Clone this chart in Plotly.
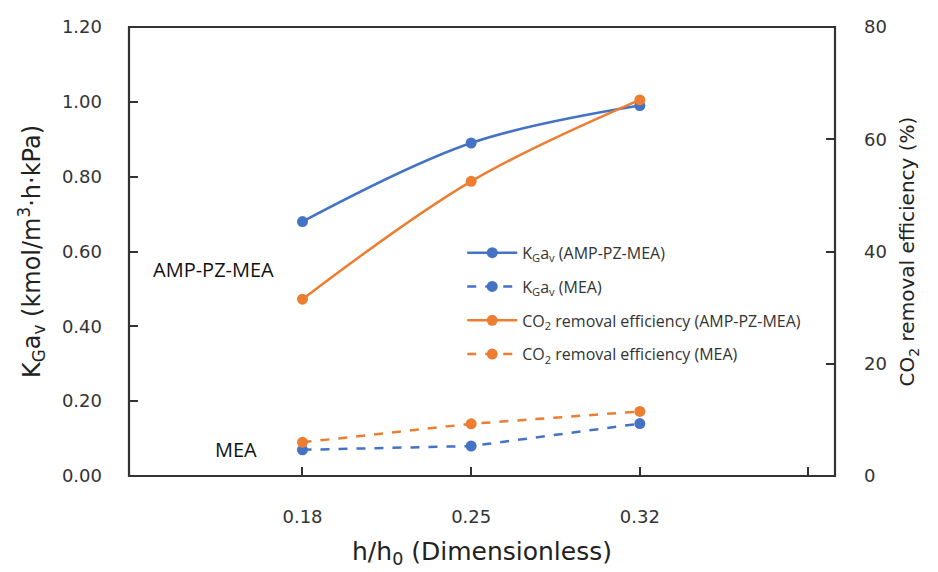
import plotly.graph_objects as go

# Packing height ratio h/h0
h_ratio = [0.18, 0.25, 0.32]

# Overall mass-transfer coefficient KGav (kmol/m3·h·kPa)
kga_amp_pz_mea = [0.68, 0.89, 0.99]
kga_mea = [0.07, 0.08, 0.14]

# CO2 removal efficiency (%)
eff_amp_pz_mea = [31.5, 52.5, 67.0]
eff_mea = [6.0, 9.3, 11.5]

x_tick_vals = [0.18, 0.25, 0.32, 0.39]
x_tick_text = ["0.18", "0.25", "0.32", ""]

BLUE = "#4472C4"
ORANGE = "#ED7D31"
FRAME = "#333333"
AXIS_FONT = "DejaVu Sans"
LABEL_FONT = "Open Sans"

fig = go.Figure()

fig.add_trace(go.Scatter(
    x=h_ratio, y=kga_amp_pz_mea, mode="lines+markers",
    name="K<sub>G</sub>a<sub>v</sub> (AMP-PZ-MEA)", legendgroup="a",
    line=dict(color=BLUE, width=2.5, shape="spline"),
    marker=dict(size=11, color=BLUE), yaxis="y"))
fig.add_trace(go.Scatter(
    x=h_ratio, y=kga_mea, mode="lines+markers",
    name="K<sub>G</sub>a<sub>v</sub> (MEA)", legendgroup="b",
    line=dict(color=BLUE, width=2.5, dash="dash"),
    marker=dict(size=11, color=BLUE), yaxis="y"))
fig.add_trace(go.Scatter(
    x=h_ratio, y=eff_amp_pz_mea, mode="lines+markers",
    name="CO<sub>2</sub> removal efficiency (AMP-PZ-MEA)", legendgroup="c",
    line=dict(color=ORANGE, width=2.5, shape="spline"),
    marker=dict(size=11, color=ORANGE), yaxis="y2"))
fig.add_trace(go.Scatter(
    x=h_ratio, y=eff_mea, mode="lines+markers",
    name="CO<sub>2</sub> removal efficiency (MEA)", legendgroup="d",
    line=dict(color=ORANGE, width=2.5, dash="dash"),
    marker=dict(size=11, color=ORANGE), yaxis="y2"))

fig.update_layout(
    width=938, height=572,
    margin=dict(l=129, r=103, t=27, b=96),
    paper_bgcolor="white", plot_bgcolor="white",
    font=dict(family=AXIS_FONT, color="#222222"),
    showlegend=True,
    legend=dict(
        x=0.472, y=0.535, xanchor="left", yanchor="top",
        bgcolor="rgba(255,255,255,0)", borderwidth=0,
        font=dict(size=16, family=LABEL_FONT, color="#333333"),
        tracegroupgap=10, itemwidth=50,
    ),
    xaxis=dict(
        range=[0.108, 0.401],
        tickvals=x_tick_vals, ticktext=x_tick_text,
        ticks="inside", ticklen=9, tickwidth=2, tickcolor=FRAME,
        showline=False, showgrid=False, zeroline=False,
        tickfont=dict(size=18, family=AXIS_FONT, color="#333333"),
        ticklabelstandoff=28,
        title=dict(text="h/h<sub>0</sub> (Dimensionless)", standoff=16,
                   font=dict(size=25, family=AXIS_FONT, color="#222222")),
    ),
    yaxis=dict(
        range=[0, 1.2], dtick=0.2, tickformat=".2f",
        ticks="inside", ticklen=9, tickwidth=2, tickcolor=FRAME,
        showline=False, showgrid=False, zeroline=False,
        tickfont=dict(size=18, family=AXIS_FONT, color="#333333"),
        ticklabelstandoff=26,
        title=dict(text="K<sub>G</sub>a<sub>v</sub> (kmol/m<sup>3</sup>·h·kPa)",
                   standoff=14, font=dict(size=24, family=AXIS_FONT, color="#222222")),
    ),
    yaxis2=dict(
        range=[0, 80], tickvals=[0, 20, 40, 60, 80],
        overlaying="y", side="right", anchor="x",
        ticks="inside", ticklen=9, tickwidth=2, tickcolor=FRAME,
        showline=False, showgrid=False, zeroline=False,
        tickfont=dict(size=18, family=AXIS_FONT, color="#333333"),
        ticklabelstandoff=28,
        title=dict(text="CO<sub>2</sub> removal efficiency (%)",
                   standoff=14, font=dict(size=20, family=AXIS_FONT, color="#222222")),
    ),
    shapes=[
        # plot-area frame
        dict(type="rect", xref="paper", yref="paper", x0=0, y0=0, x1=1, y1=1,
             line=dict(color=FRAME, width=2.2), fillcolor="rgba(0,0,0,0)",
             layer="above"),
    ],
    annotations=[
        dict(text="AMP-PZ-MEA", xref="paper", yref="paper", x=0.120, y=0.459,
             xanchor="center", yanchor="middle", showarrow=False,
             font=dict(size=20, family=LABEL_FONT, color="#111111")),
        dict(text="MEA", xref="paper", yref="paper", x=0.152, y=0.058,
             xanchor="center", yanchor="middle", showarrow=False,
             font=dict(size=20, family=LABEL_FONT, color="#111111")),
    ],
)

fig.write_html("out.html")
